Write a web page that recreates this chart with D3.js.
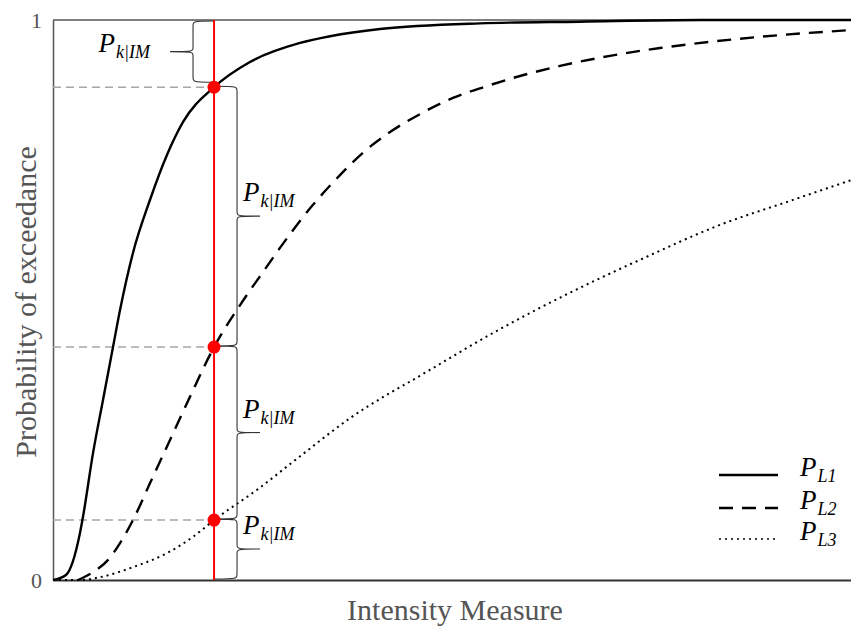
<!DOCTYPE html>
<html>
<head>
<meta charset="utf-8">
<script src="https://cdn.jsdelivr.net/npm/d3@7"></script>
<style>
  body { margin: 0; background: #fff; }
  svg { display: block; font-family: "Liberation Serif", "Times New Roman", serif; }
</style>
</head>
<body>
<svg id="chart" width="851" height="639"></svg>
<script>
// values: intensity measure (x) vs probability of exceedance (y)
const imL1 = [0, 0.081, 0.169, 0.188, 0.251, 0.313, 0.376, 0.42, 0.501, 0.608, 0.714, 0.815, 1.009, 1.234, 1.548, 1.736, 2.049, 2.675, 3.302, 4.054, 5];
const probL1 = [0, 0.009, 0.084, 0.113, 0.227, 0.321, 0.416, 0.482, 0.584, 0.679, 0.759, 0.818, 0.88, 0.925, 0.959, 0.971, 0.984, 0.994, 0.997, 1, 1];

const imL2 = [0.157, 0.251, 0.345, 0.42, 0.501, 0.608, 0.733, 0.858, 1.009, 1.172, 1.316, 1.422, 1.629, 1.798, 1.942, 2.112, 2.3, 2.506, 2.719, 2.926, 3.177, 3.49, 3.803, 4.117, 4.43, 5];
const probL2 = [0, 0.014, 0.036, 0.066, 0.107, 0.173, 0.25, 0.327, 0.416, 0.491, 0.55, 0.593, 0.67, 0.723, 0.763, 0.8, 0.832, 0.861, 0.882, 0.9, 0.918, 0.936, 0.95, 0.961, 0.97, 0.982];

const imL3 = [0, 0.169, 0.294, 0.501, 0.714, 0.877, 1.009, 1.278, 1.548, 1.861, 2.337, 2.788, 3.246, 3.703, 4.16, 4.618, 5];
const probL3 = [0, 0, 0.005, 0.023, 0.048, 0.077, 0.107, 0.161, 0.221, 0.289, 0.371, 0.446, 0.514, 0.575, 0.632, 0.677, 0.714];

const imLine = 1.009;                 // the red vertical line
const dotProbs = [0.88, 0.416, 0.107]; // where it meets L1, L2, L3
const yTicks = [0, 1];
const seriesNames = ["L1", "L2", "L3"];
const braceSub = "k|IM";
const xTitle = "Intensity Measure";
const yTitle = "Probability of exceedance";

const svg = d3.select("#chart");

let x = d3.scaleLinear().domain([0, 5]).range([53, 851]);
let y = d3.scaleLinear().domain([0, 1]).range([580, 20]);

// axes
svg.append("g")
    .attr("transform", `translate(${x(0)},0)`)
    .call(d3.axisLeft(y).tickValues(yTicks).tickSize(0).tickPadding(11).tickFormat(d3.format("d")))
    .call(g => g.select(".domain").attr("stroke", "#555").attr("stroke-width", 1.5))
    .selectAll("text")
    .attr("font-family", "Liberation Serif")
    .attr("font-size", 22)
    .attr("fill", "#555");

svg.append("g")
    .attr("transform", `translate(0,${y(0)})`)
    .call(d3.axisBottom(x).tickValues([]).tickSizeOuter(0))
    .select(".domain").attr("stroke", "#333").attr("stroke-width", 2);

// top frame line
svg.append("line")
    .attr("x1", x(0)).attr("x2", x(5))
    .attr("y1", y(1)).attr("y2", y(1))
    .attr("stroke", "#555").attr("stroke-width", 1.5);

// gray guides from the y axis to the dots
svg.selectAll(".guide")
    .data(dotProbs)
    .join("line")
    .attr("class", "guide")
    .attr("x1", x(0)).attr("x2", x(imLine))
    .attr("y1", d => y(d)).attr("y2", d => y(d))
    .attr("stroke", "#a6a6a6").attr("stroke-width", 1.5)
    .attr("stroke-dasharray", "8,5");

// curves
const series = [
    { name: seriesNames[0], im: imL1, p: probL1, dash: null, width: 2.4 },
    { name: seriesNames[1], im: imL2, p: probL2, dash: "14,9", width: 2.4 },
    { name: seriesNames[2], im: imL3, p: probL3, dash: "2,4", width: 2 }
];

let line = d3.line()
    .x(d => x(d[0]))
    .y(d => y(d[1]))
    .curve(d3.curveMonotoneX);

svg.selectAll(".curve")
    .data(series)
    .join("path")
    .attr("class", "curve")
    .attr("d", s => line(s.im.map((v, i) => [v, s.p[i]])))
    .attr("fill", "none")
    .attr("stroke", "#000")
    .attr("stroke-width", s => s.width)
    .attr("stroke-dasharray", s => s.dash);

// red IM line
svg.append("line")
    .attr("x1", x(imLine)).attr("x2", x(imLine))
    .attr("y1", y(1)).attr("y2", y(0))
    .attr("stroke", "#ff0000").attr("stroke-width", 2);

// braces between consecutive levels
function bracePath(x0, xb, xt, y1, y2) {
    const ym = (y1 + y2) / 2;
    return `M${x0},${y1} C${xb},${y1} ${xb},${y1} ${xb},${y1 + 6}` +
        ` L${xb},${ym - 5} C${xb},${ym} ${xb},${ym} ${xt},${ym}` +
        ` C${xb},${ym} ${xb},${ym} ${xb},${ym + 5}` +
        ` L${xb},${y2 - 6} C${xb},${y2} ${xb},${y2} ${x0},${y2}`;
}

function mathLabel(g, px, py, sub, anchor) {
    const t = g.append("text")
        .attr("x", px).attr("y", py)
        .attr("text-anchor", anchor)
        .attr("font-family", "Liberation Serif")
        .attr("font-style", "italic")
        .attr("fill", "#000");
    t.append("tspan").attr("font-size", 27).text("P");
    t.append("tspan").attr("font-size", 18).attr("dy", 6).attr("dx", 1).text(sub);
}

const levels = [1, ...dotProbs, 0];
const xr = x(imLine);
const braceG = svg.append("g");
d3.pairs(levels).forEach(([top, bottom], i) => {
    const y1 = y(top), y2 = y(bottom), ym = (y1 + y2) / 2;
    if (i === 0) {
        braceG.append("path")
            .attr("d", bracePath(xr - 1, xr - 21, xr - 44, y1 + 1, y2 - 5))
            .attr("fill", "none").attr("stroke", "#333").attr("stroke-width", 1.1);
        mathLabel(braceG, xr - 64, ym - 2, braceSub, "end");
    } else {
        braceG.append("path")
            .attr("d", bracePath(xr + 1, xr + 23, xr + 46, y1 - 1, y2 - 1))
            .attr("fill", "none").attr("stroke", "#333").attr("stroke-width", 1.1);
        mathLabel(braceG, xr + 29, ym - 16, braceSub, "start");
    }
});

// red dots
svg.selectAll(".dot")
    .data(dotProbs)
    .join("circle")
    .attr("class", "dot")
    .attr("cx", x(imLine))
    .attr("cy", d => y(d))
    .attr("r", 6.5)
    .attr("fill", "#ff0000");

// legend
const legend = svg.append("g").attr("transform", "translate(719,475)");
series.forEach((s, i) => {
    const row = legend.append("g").attr("transform", `translate(0,${[0, 33, 64][i]})`);
    row.append("line")
        .attr("x1", 0).attr("x2", 59)
        .attr("stroke", "#000")
        .attr("stroke-width", i === 2 ? 1.5 : 2.4)
        .attr("stroke-dasharray", i === 2 ? "2,4" : s.dash);
    mathLabel(row, 81, 1, s.name, "start");
});

// axis titles
svg.append("text")
    .attr("x", 455).attr("y", 620)
    .attr("text-anchor", "middle")
    .attr("font-size", 30)
    .attr("fill", "#555")
    .text(xTitle);

svg.append("text")
    .attr("transform", "translate(36,302) rotate(-90)")
    .attr("text-anchor", "middle")
    .attr("font-size", 30)
    .attr("fill", "#555")
    .text(yTitle);
</script>
</body>
</html>
